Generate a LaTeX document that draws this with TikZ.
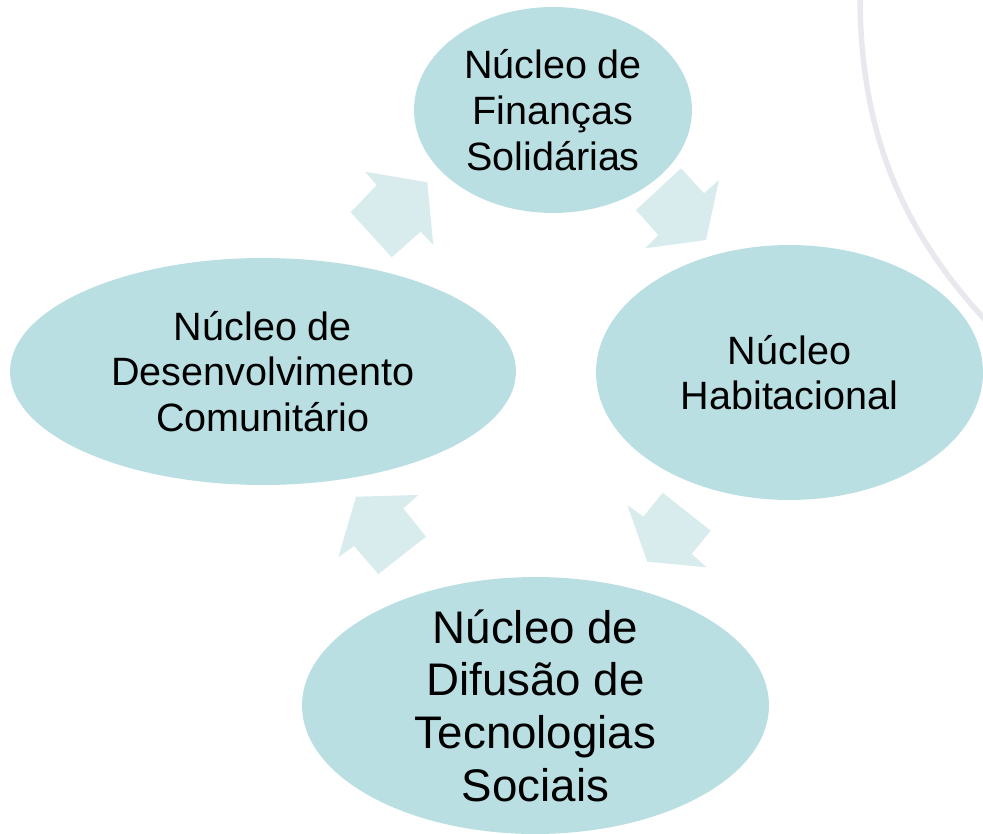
\documentclass[tikz,border=0pt]{standalone}
\usepackage{fontspec}
\setmainfont{Liberation Sans}
\usetikzlibrary{shapes.geometric}
\definecolor{bubbleTeal}{RGB}{186, 223, 227}
\definecolor{arrowTeal}{RGB}{216, 236, 238}
\definecolor{arcGray}{RGB}{232, 232, 239}
\tikzset{
    bubble/.style={ellipse, fill=bubbleTeal, inner sep=0pt},
    bubtext/.style={align=center, font=\fontsize{22.5}{26}\selectfont},
    bigtext/.style={align=center, font=\fontsize{26}{30}\selectfont},
    cycarrow/.style={fill=arrowTeal}
}

\begin{document}
\begin{tikzpicture}[x=0.02cm, y=-0.02cm]
                \useasboundingbox (0,0) rectangle (983,834);
                
                % faint arc of the slide background
                \draw[arcGray, line width=0.11cm] (860,-5) .. controls (860,130) and (900,230) .. (990,325);
                
                \node[bubble, minimum width=5.56cm, minimum height=4.12cm] (fin) at (553,110) {};
                \node[bubble, minimum width=7.74cm, minimum height=5.1cm] (hab) at (789.5,372.5) {};
                \node[bubble, minimum width=9.34cm, minimum height=5.14cm] (dif) at (535.5,705.5) {};
                \node[bubble, minimum width=10.12cm, minimum height=4.54cm] (des) at (263,371.5) {};
                
                \node[bubtext] (finText) at (fin) {Núcleo de\\Finanças\\Solidárias};
                \node[bubtext] (habText) at (hab) {Núcleo\\Habitacional};
                \node[bigtext] (difText) at (dif) {Núcleo de\\Difusão de\\Tecnologias\\Sociais};
                \node[bubtext] (desText) at (des) {Núcleo de\\Desenvolvimento\\Comunitário};
                
                % block arrows of the cycle
                \fill[cycarrow] (350.7,212.3) -- (376.7,185) -- (365,171.7) -- (427.3,182.3)
                    -- (433.3,245) -- (420.7,231.7) -- (391.7,257.3) -- cycle;
                \fill[cycarrow] (681,168.3) -- (704,193.3) -- (719,180) -- (706,240)
                    -- (645,248.3) -- (658.3,235) -- (636,210) -- cycle;
                \fill[cycarrow] (662.7,492.7) -- (710.7,530.7) -- (691.7,554) -- (706.7,567.3)
                    -- (647.3,561.7) -- (627.3,505) -- (643.3,516.7) -- cycle;
                \fill[cycarrow] (418.3,495) -- (403.3,508.3) -- (426,536.7) -- (378.3,574)
                    -- (354,546) -- (338.3,557.3) -- (356,496.7) -- cycle;
\end{tikzpicture}
\end{document}
